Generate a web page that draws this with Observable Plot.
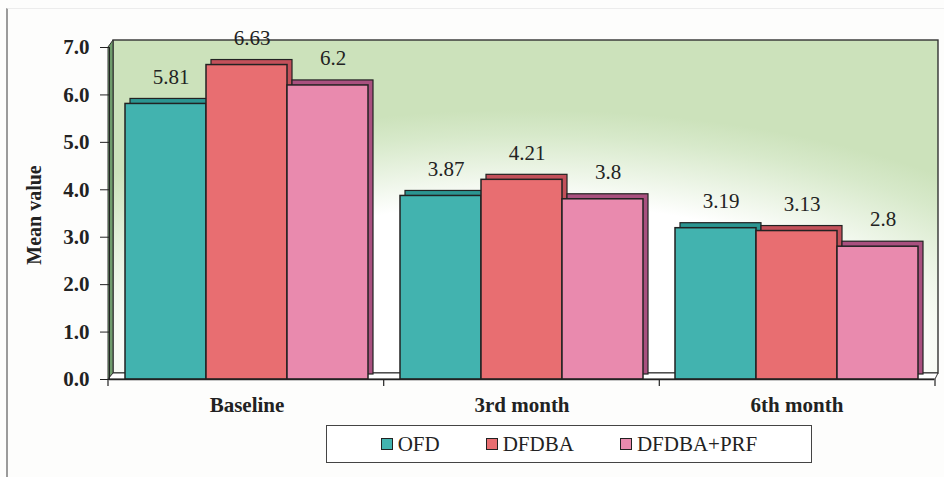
<!DOCTYPE html>
<html>
<head>
<meta charset="utf-8">
<script src="https://cdn.jsdelivr.net/npm/d3@7"></script>
<script src="https://cdn.jsdelivr.net/npm/@observablehq/plot@0.6"></script>
<style>
  html, body { margin: 0; padding: 0; background: #fdfdfc; }
  #wrap { position: relative; width: 944px; height: 477px; overflow: hidden; font-family: "Liberation Serif", "Times New Roman", serif; color: #222; }
  #border { position: absolute; left: 6px; top: 8px; width: 938px; height: 470px; border-left: 2px solid #9b9b9b; border-top: 1px solid #ececec; }
  #chart { position: absolute; left: 0; top: 0; }
  #ylabel { position: absolute; left: 34px; top: 215px; transform: translate(-50%, -50%) rotate(-90deg); font-size: 20px; font-weight: bold; white-space: nowrap; }
  #legend { position: absolute; left: 326px; top: 425px; width: 484px; height: 36px; border: 1.5px solid #444; background: #fff; display: flex; align-items: center; justify-content: center; gap: 46px; font-size: 21px; }
  .item { display: flex; align-items: center; }
  .sw { width: 10px; height: 10px; border: 1.6px solid #222; margin-right: 5px; }
</style>
</head>
<body>
<div id="wrap">
  <div id="border"></div>
  <div id="chart"></div>
  <div id="ylabel">Mean value</div>
  <div id="legend"></div>
</div>
<script>
// ---- data ----
const categories = ["Baseline", "3rd month", "6th month"];
const groups = ["OFD", "DFDBA", "DFDBA+PRF"];
const ofdValues = [5.81, 3.87, 3.19];
const dfdbaValues = [6.63, 4.21, 3.13];
const prfValues = [6.2, 3.8, 2.8];
const yTicks = [0, 1, 2, 3, 4, 5, 6, 7];

// ---- styles ----
const frontColors = ["#42b3af", "#e86e71", "#e98aae"];
const sideColors = ["#2b9591", "#c3505a", "#a9507f"];

const series = [ofdValues, dfdbaValues, prfValues];
const rows = [];
categories.forEach((c, i) => {
  groups.forEach((g, j) => {
    rows.push({cat: c, grp: g, v: series[j][i], label: String(series[j][i])});
  });
});

const W = 944, H = 420, mL = 108, mR = 9, mT = 47, mB = 41;

const plot = Plot.plot({
  width: W,
  height: H,
  marginLeft: mL,
  marginRight: mR,
  marginTop: mT,
  marginBottom: mB,
  style: {fontFamily: '"Liberation Serif", "Times New Roman", serif', fontSize: "21px", fontWeight: "bold", background: "transparent", color: "#222", overflow: "visible"},
  fx: {domain: categories, padding: 0, label: null, tickSize: 0, tickPadding: 18, axis: "bottom"},
  x: {domain: groups, paddingInner: 0, paddingOuter: 0.19, axis: null},
  y: {domain: [0, 7], ticks: yTicks, tickFormat: d => d.toFixed(1), tickSize: 9, tickPadding: 11, label: null, line: true},
  color: {domain: groups, range: frontColors},
  marks: [
    ...groups.map((g, j) => Plot.barY(rows.filter(d => d.grp === g), {
      fx: "cat", x: "grp", y: "v", fill: sideColors[j], dx: 5, dy: -5, stroke: "#222", strokeWidth: 1.2
    })),
    Plot.barY(rows, {fx: "cat", x: "grp", y: "v", fill: "grp", stroke: "#222", strokeWidth: 1.5}),
    Plot.text(rows, {fx: "cat", x: "grp", y: "v", text: "label", dy: -27, dx: 5, fontSize: 21, fontWeight: "normal", fill: "#222"}),
    Plot.ruleY([0], {stroke: "#222", strokeWidth: 1.6})
  ]
});

// ---- 3D wall / floor decoration (behind marks) ----
const X0 = mL, X1 = W - mR, Y0 = H - mB, YT = mT;
const dX = 5, dY = 6;
const deco = d3.create("svg:g");
const defs = deco.append("defs");
const grad = defs.append("radialGradient").attr("id", "wallGrad")
  .attr("cx", "0.5").attr("cy", "0.95").attr("r", "0.74");
grad.append("stop").attr("offset", "0").attr("stop-color", "#ffffff");
grad.append("stop").attr("offset", "0.62").attr("stop-color", "#ffffff");
grad.append("stop").attr("offset", "0.9").attr("stop-color", "#d7e9ca");
grad.append("stop").attr("offset", "1").attr("stop-color", "#cce2bb");
deco.append("rect")
  .attr("x", X0 + dX).attr("y", YT - dY - 1)
  .attr("width", X1 + 3 - (X0 + dX)).attr("height", (Y0 - dY) - (YT - dY - 1))
  .attr("fill", "url(#wallGrad)").attr("stroke", "#333").attr("stroke-width", 1.4);
deco.append("polygon")
  .attr("points", [[X0, Y0], [X0, YT], [X0 + dX, YT - dY - 1], [X0 + dX, Y0 - dY]].map(p => p.join(",")).join(" "))
  .attr("fill", "#6f9c6c").attr("stroke", "#333").attr("stroke-width", 1);
deco.append("polygon")
  .attr("points", [[X0, Y0], [X0 + dX, Y0 - dY], [X1 + 3, Y0 - dY], [X1, Y0]].map(p => p.join(",")).join(" "))
  .attr("fill", "#ffffff").attr("stroke", "#333").attr("stroke-width", 1);
const step = (X1 - X0) / categories.length;
for (let i = 0; i <= categories.length; i++) {
  const x = X0 + i * step;
  deco.append("line").attr("x1", x).attr("x2", x).attr("y1", Y0).attr("y2", Y0 + 7)
    .attr("stroke", "#333").attr("stroke-width", 1.3);
}
const svgEl = plot.tagName.toLowerCase() === "svg" ? plot : plot.querySelector("svg");
const firstNonStyle = Array.from(svgEl.childNodes).find(n => n.tagName && n.tagName.toLowerCase() !== "style");
svgEl.insertBefore(deco.node(), firstNonStyle);

document.getElementById("chart").appendChild(plot);

// ---- legend ----
const legend = document.getElementById("legend");
groups.forEach((g, j) => {
  const it = document.createElement("div");
  it.className = "item";
  const sw = document.createElement("span");
  sw.className = "sw";
  sw.style.background = frontColors[j];
  const tx = document.createElement("span");
  tx.textContent = g;
  it.appendChild(sw);
  it.appendChild(tx);
  legend.appendChild(it);
});
</script>
</body>
</html>
